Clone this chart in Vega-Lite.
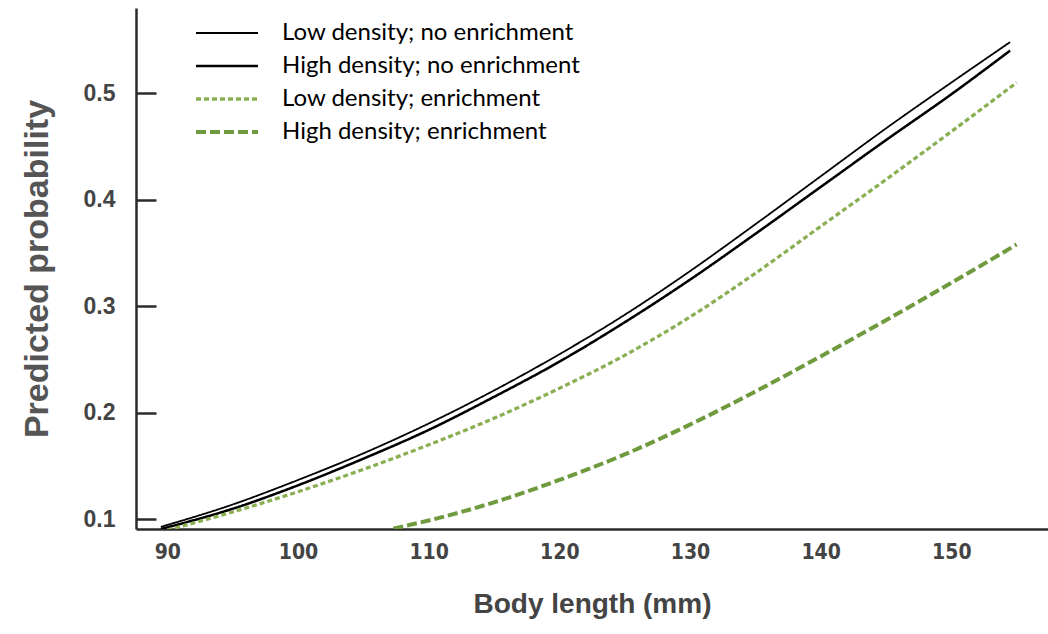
{
  "$schema": "https://vega.github.io/schema/vega-lite/v6.json",
  "width": 912,
  "height": 521,
  "autosize": {"type": "none"},
  "padding": {"left": 136, "top": 8, "right": 0, "bottom": 105},
  "background": "white",
  "config": {
    "view": {"stroke": null},
    "axis": {
      "grid": false,
      "domainColor": "#2b2b2b",
      "domainWidth": 2.5,
      "tickColor": "#2b2b2b",
      "tickWidth": 2.5,
      "labelFont": "Liberation Sans",
      "labelFontWeight": "bold",
      "labelColor": "#444444",
      "titleFont": "Liberation Sans",
      "titleFontWeight": "bold",
      "titleColor": "#555555"
    }
  },
  "data": {
    "values": [
      {"group": "Low density; no enrichment", "length": 89.5, "prob": 0.093},
      {"group": "Low density; no enrichment", "length": 95, "prob": 0.114},
      {"group": "Low density; no enrichment", "length": 100, "prob": 0.137},
      {"group": "Low density; no enrichment", "length": 105, "prob": 0.162},
      {"group": "Low density; no enrichment", "length": 110, "prob": 0.19},
      {"group": "Low density; no enrichment", "length": 115, "prob": 0.221},
      {"group": "Low density; no enrichment", "length": 120, "prob": 0.255},
      {"group": "Low density; no enrichment", "length": 125, "prob": 0.292},
      {"group": "Low density; no enrichment", "length": 130, "prob": 0.333},
      {"group": "Low density; no enrichment", "length": 135, "prob": 0.377},
      {"group": "Low density; no enrichment", "length": 140, "prob": 0.422},
      {"group": "Low density; no enrichment", "length": 145, "prob": 0.467},
      {"group": "Low density; no enrichment", "length": 150, "prob": 0.51},
      {"group": "Low density; no enrichment", "length": 154.5, "prob": 0.548},

      {"group": "High density; no enrichment", "length": 89.5, "prob": 0.091},
      {"group": "High density; no enrichment", "length": 95, "prob": 0.11},
      {"group": "High density; no enrichment", "length": 100, "prob": 0.132},
      {"group": "High density; no enrichment", "length": 105, "prob": 0.157},
      {"group": "High density; no enrichment", "length": 110, "prob": 0.184},
      {"group": "High density; no enrichment", "length": 115, "prob": 0.215},
      {"group": "High density; no enrichment", "length": 120, "prob": 0.248},
      {"group": "High density; no enrichment", "length": 125, "prob": 0.285},
      {"group": "High density; no enrichment", "length": 130, "prob": 0.325},
      {"group": "High density; no enrichment", "length": 135, "prob": 0.368},
      {"group": "High density; no enrichment", "length": 140, "prob": 0.412},
      {"group": "High density; no enrichment", "length": 145, "prob": 0.456},
      {"group": "High density; no enrichment", "length": 150, "prob": 0.499},
      {"group": "High density; no enrichment", "length": 154.5, "prob": 0.54},

      {"group": "Low density; enrichment", "length": 90, "prob": 0.09},
      {"group": "Low density; enrichment", "length": 95, "prob": 0.107},
      {"group": "Low density; enrichment", "length": 100, "prob": 0.126},
      {"group": "Low density; enrichment", "length": 105, "prob": 0.147},
      {"group": "Low density; enrichment", "length": 110, "prob": 0.17},
      {"group": "Low density; enrichment", "length": 115, "prob": 0.195},
      {"group": "Low density; enrichment", "length": 120, "prob": 0.223},
      {"group": "Low density; enrichment", "length": 125, "prob": 0.254},
      {"group": "Low density; enrichment", "length": 130, "prob": 0.29},
      {"group": "Low density; enrichment", "length": 135, "prob": 0.331},
      {"group": "Low density; enrichment", "length": 140, "prob": 0.375},
      {"group": "Low density; enrichment", "length": 145, "prob": 0.419},
      {"group": "Low density; enrichment", "length": 150, "prob": 0.464},
      {"group": "Low density; enrichment", "length": 155, "prob": 0.51},

      {"group": "High density; enrichment", "length": 107.3, "prob": 0.0915},
      {"group": "High density; enrichment", "length": 110, "prob": 0.099},
      {"group": "High density; enrichment", "length": 115, "prob": 0.116},
      {"group": "High density; enrichment", "length": 120, "prob": 0.137},
      {"group": "High density; enrichment", "length": 125, "prob": 0.161},
      {"group": "High density; enrichment", "length": 130, "prob": 0.189},
      {"group": "High density; enrichment", "length": 135, "prob": 0.22},
      {"group": "High density; enrichment", "length": 140, "prob": 0.253},
      {"group": "High density; enrichment", "length": 145, "prob": 0.287},
      {"group": "High density; enrichment", "length": 150, "prob": 0.322},
      {"group": "High density; enrichment", "length": 155, "prob": 0.358}
    ]
  },
  "mark": {"type": "line", "interpolate": "monotone", "clip": true},
  "encoding": {
    "x": {
      "field": "length",
      "type": "quantitative",
      "scale": {"domain": [87.6, 157.4], "nice": false, "zero": false},
      "axis": {
        "title": "Body length (mm)",
        "values": [90, 100, 110, 120, 130, 140, 150],
        "ticks": false,
        "labelFont": "DejaVu Sans Condensed, Liberation Sans, sans-serif",
        "labelFontSize": 21,
        "labelPadding": 12,
        "titleFontSize": 28,
        "titleColor": "#444444",
        "titlePadding": 28
      }
    },
    "y": {
      "field": "prob",
      "type": "quantitative",
      "scale": {"domain": [0.091, 0.58], "nice": false, "zero": false},
      "axis": {
        "title": "Predicted probability",
        "values": [0.1, 0.2, 0.3, 0.4, 0.5],
        "format": ".1f",
        "tickSize": -20,
        "labelPadding": 41,
        "labelFontSize": 23,
        "titleFontSize": 34,
        "titlePadding": 29
      }
    },
    "color": {
      "field": "group",
      "type": "nominal",
      "sort": null,
      "scale": {
        "domain": ["Low density; no enrichment", "High density; no enrichment", "Low density; enrichment", "High density; enrichment"],
        "range": ["#000000", "#000000", "#8aae52", "#6f9a3d"]
      },
      "legend": {
        "title": null,
        "orient": "none",
        "legendX": 58,
        "legendY": 13,
        "padding": 0,
        "symbolType": "stroke",
        "symbolSize": 3844,
        "clipHeight": 24,
        "labelFont": "Lato",
        "labelFontSize": 24,
        "labelColor": "#000000",
        "labelLimit": 0,
        "labelOffset": 22,
        "rowPadding": 9
      }
    },
    "strokeDash": {
      "field": "group",
      "type": "nominal",
      "sort": null,
      "scale": {
        "domain": ["Low density; no enrichment", "High density; no enrichment", "Low density; enrichment", "High density; enrichment"],
        "range": [[1, 0], [1, 0], [5, 3], [10, 4]]
      }
    },
    "strokeWidth": {
      "field": "group",
      "type": "nominal",
      "sort": null,
      "scale": {
        "domain": ["Low density; no enrichment", "High density; no enrichment", "Low density; enrichment", "High density; enrichment"],
        "range": [1.8, 4, 1.5, 4]
      }
    }
  }
}
